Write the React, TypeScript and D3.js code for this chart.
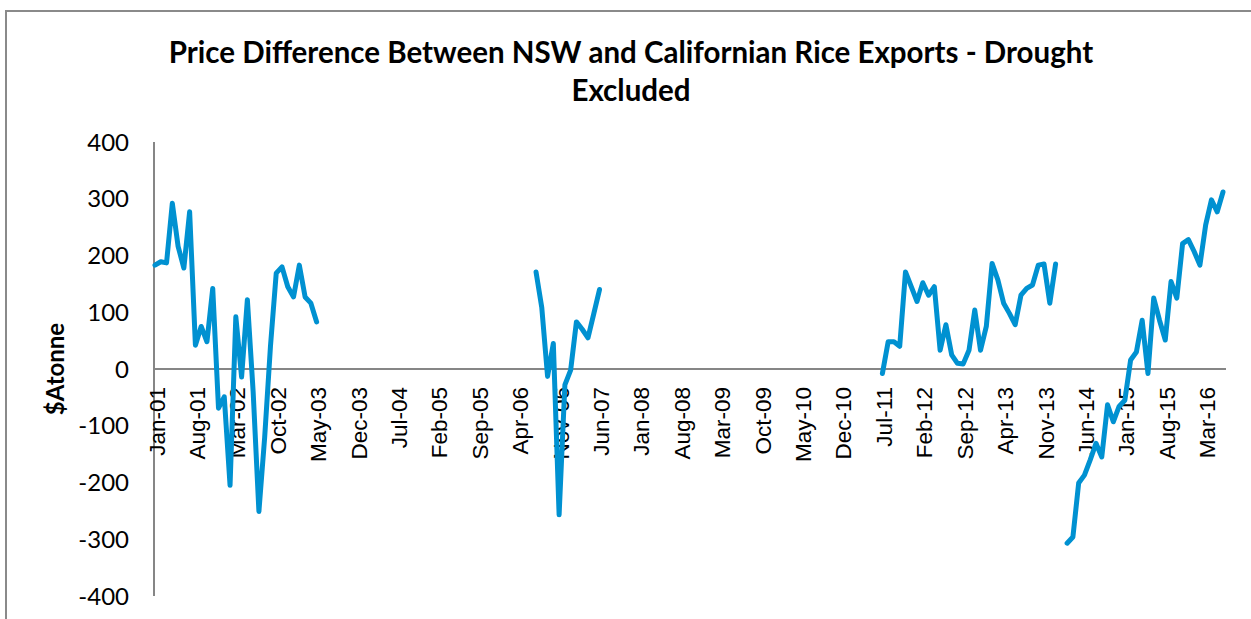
import React from "react";
import * as d3 from "d3";

// Monthly categories Jan-01 .. Jun-16
const firstMonth = new Date(2001, 0, 1);
const lastMonth = new Date(2016, 5, 1);

// X tick labels (every 7th month)
const tickLabels = [
  "Jan-01", "Aug-01", "Mar-02", "Oct-02", "May-03", "Dec-03", "Jul-04", "Feb-05", "Sep-05",
  "Apr-06", "Nov-06", "Jun-07", "Jan-08", "Aug-08", "Mar-09", "Oct-09", "May-10", "Dec-10",
  "Jul-11", "Feb-12", "Sep-12", "Apr-13", "Nov-13", "Jun-14", "Jan-15", "Aug-15", "Mar-16",
];

const yTicks = [400, 300, 200, 100, 0, -100, -200, -300, -400];

// Series segments ($/tonne), each starting at the given month
const seg2001Start = "Jan-01";
const seg2001 = [183, 189, 187, 292, 216, 178, 277, 42, 75, 48, 142, -69, -49, -205, 92, -14, 122, -40, -251, -120, 40, 169, 180, 145, 127, 183, 127, 116, 83];
const seg2006Start = "Jul-06";
const seg2006 = [171, 108, -13, 45, -257, -28, -2, 83, 70, 55, 97, 140];
const seg2011Start = "Jul-11";
const seg2011 = [-8, 48, 48, 40, 171, 145, 119, 152, 130, 145, 33, 78, 25, 10, 9, 33, 104, 33, 75, 186, 157, 116, 98, 78, 130, 142, 148, 183, 185, 116, 185];
const seg2014Start = "Mar-14";
const seg2014 = [-307, -296, -201, -187, -160, -131, -155, -63, -93, -66, -55, 16, 30, 86, -8, 125, 86, 51, 154, 125, 221, 228, 207, 183, 254, 298, 277, 312];

const segments = [
  { start: seg2001Start, values: seg2001 },
  { start: seg2006Start, values: seg2006 },
  { start: seg2011Start, values: seg2011 },
  { start: seg2014Start, values: seg2014 },
];

const fmt = d3.timeFormat("%b-%y");
const months = d3.timeMonth.range(firstMonth, d3.timeMonth.offset(lastMonth, 1)).map(fmt);

export default function App() {
  const W = 1251, H = 619;
  const x = d3.scaleLinear().domain([0, months.length - 1]).range([155, 1223]);
  const y = d3.scaleLinear().domain([-400, 400]).range([596, 142]);
  const line = d3
    .line<[number, number]>()
    .x((d) => x(d[0]))
    .y((d) => y(d[1]));

  const axisColor = "#868686";
  const lineColor = "#0091D1";

  return (
    <div style={{ position: "absolute", left: 0, top: 0 }}>
      <svg width={W} height={H} style={{ display: "block", background: "#fff" }}>
        <rect x={6} y={11} width={1400} height={800} fill="#fff" stroke="#8a8a8a" strokeWidth={2} />
        <text x={631} y={62.5} textAnchor="middle" fontFamily="Lato" fontWeight="bold" fontSize={29.5} fill="#000">
          Price Difference Between NSW and Californian Rice Exports - Drought
        </text>
        <text x={631} y={100.5} textAnchor="middle" fontFamily="Lato" fontWeight="bold" fontSize={29.5} fill="#000">
          Excluded
        </text>
        {/* y axis */}
        <line x1={154} x2={154} y1={y(400)} y2={y(-400)} stroke={axisColor} strokeWidth={2} />
        {yTicks.map((t) => (
          <text key={t} x={129} y={y(t) + 8.5} textAnchor="end" fontFamily="Lato" fontSize={24} fill="#000">
            {t}
          </text>
        ))}
        <text
          transform={`translate(64,${y(0)}) rotate(-90)`}
          textAnchor="middle"
          fontFamily="Lato"
          fontWeight="bold"
          fontSize={24}
          fill="#000"
        >
          $Atonne
        </text>
        {/* x axis */}
        <line x1={154} x2={1226} y1={y(0)} y2={y(0)} stroke={axisColor} strokeWidth={2} />
        {tickLabels.map((lab) => {
          const i = months.indexOf(lab);
          return (
            <text
              key={lab}
              transform={`translate(${x(i) + 9.5},387) rotate(-90)`}
              textAnchor="end"
              fontFamily="Liberation Sans"
              fontSize={22.5}
              fill="#000"
            >
              {lab}
            </text>
          );
        })}
        {segments.map((s) => {
          const i0 = months.indexOf(s.start);
          const pts = s.values.map((v, k) => [i0 + k, v] as [number, number]);
          return (
            <path
              key={s.start}
              d={line(pts) || ""}
              fill="none"
              stroke={lineColor}
              strokeWidth={5}
              strokeLinejoin="round"
              strokeLinecap="round"
            />
          );
        })}
      </svg>
    </div>
  );
}
